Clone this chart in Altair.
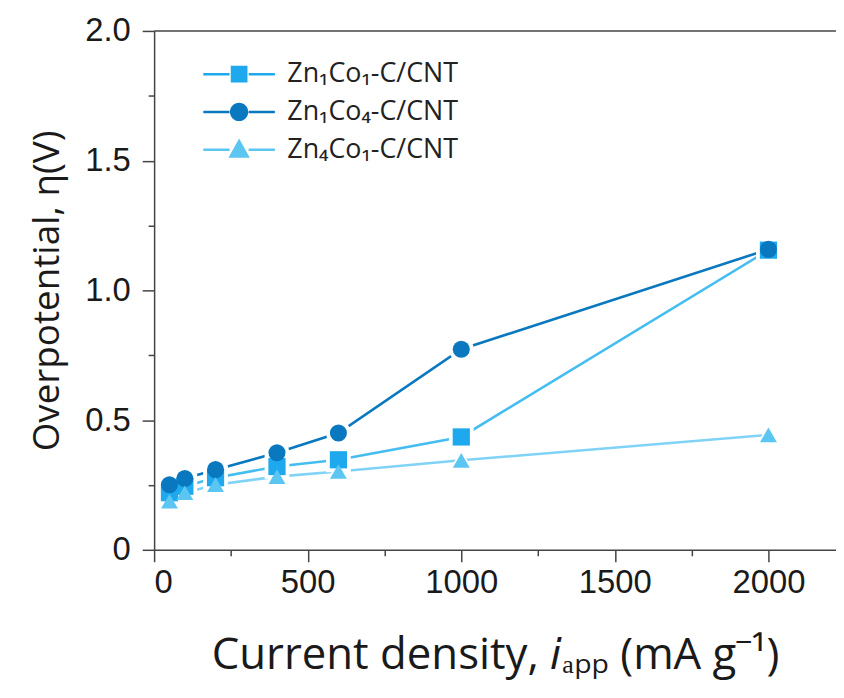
import altair as alt
import pandas as pd

# ---- data ----
current = [50, 100, 200, 400, 600, 1000, 2000]
series_names = ["Zn₁Co₁-C/CNT", "Zn₁Co₄-C/CNT", "Zn₄Co₁-C/CNT"]
eta_zn1co1 = [0.22, 0.245, 0.278, 0.321, 0.347, 0.435, 1.155]
eta_zn1co4 = [0.251, 0.275, 0.309, 0.374, 0.450, 0.773, 1.158]
eta_zn4co1 = [0.187, 0.220, 0.251, 0.282, 0.302, 0.345, 0.443]

marker_colors = ["#1ea9ee", "#0a78bf", "#5cc6f3"]
line_colors = ["#45bdf1", "#0a78bf", "#80d3f6"]
shapes = ["square", "circle", "triangle-up"]
marker_sizes = [300, 290, 560]
halo_sizes = [620, 620, 1100]

legend_paths = [
    "M-4.5,-0.16H-1.2V0.16H-4.5Z M1.2,-0.16H4.5V0.16H1.2Z M-1.05,-1.05H1.05V1.05H-1.05Z",
    "M-4.5,-0.16H-1.2V0.16H-4.5Z M1.2,-0.16H4.5V0.16H1.2Z M-1.15,0A1.15,1.15,0,1,0,1.15,0A1.15,1.15,0,1,0,-1.15,0Z",
    "M-4.5,-0.16H-1.2V0.16H-4.5Z M1.2,-0.16H4.5V0.16H1.2Z M0,-1.4L1.35,1L-1.35,1Z",
]

rows = []
for name, vals in zip(series_names, [eta_zn1co1, eta_zn1co4, eta_zn4co1]):
    for x, y in zip(current, vals):
        rows.append({"series": name, "x": x, "y": y})
df = pd.DataFrame(rows)

XMAX = 2220
xs = alt.Scale(domain=[0, XMAX], nice=False, zero=False)
ys = alt.Scale(domain=[0, 2.0], nice=False)

x_axis = alt.Axis(
    title="Current density, 𝑖ₐₚₚ (mA g⁻¹)",
    values=list(range(0, 2001, 250)),
    labelExpr="datum.value % 500 == 0 ? format(datum.value, 'd') : ''",
    tickSize={"condition": {"test": "datum.value % 500 != 0", "value": 6}, "value": 12},
    grid=False,
)
y_axis = alt.Axis(
    title="Overpotential, η(V)",
    values=[0, 0.25, 0.5, 0.75, 1.0, 1.25, 1.5, 1.75, 2.0],
    labelExpr="datum.value == 0 ? '0' : (abs(datum.value*2 - round(datum.value*2)) < 0.001 ? format(datum.value, '.1f') : '')",
    tickSize={"condition": {"test": "abs(datum.value*2 - round(datum.value*2)) > 0.001", "value": 6}, "value": 12},
    grid=False,
)

base = alt.Chart(df)

lines = base.mark_line(strokeWidth=2.6).encode(
    x=alt.X("x:Q", scale=xs, axis=x_axis),
    y=alt.Y("y:Q", scale=ys, axis=y_axis),
    color=alt.Color("series:N", scale=alt.Scale(domain=series_names, range=line_colors), legend=None),
    detail="series:N",
)

halos = base.mark_point(filled=True, opacity=1, color="white").encode(
    x=alt.X("x:Q", scale=xs),
    y=alt.Y("y:Q", scale=ys),
    shape=alt.Shape("series:N", scale=alt.Scale(domain=series_names, range=shapes), legend=None),
    size=alt.Size("series:N", scale=alt.Scale(domain=series_names, range=halo_sizes), legend=None),
)

markers = base.mark_point(filled=True, opacity=1).encode(
    x=alt.X("x:Q", scale=xs),
    y=alt.Y("y:Q", scale=ys),
    color=alt.Color("series:N", scale=alt.Scale(domain=series_names, range=marker_colors), legend=None),
    shape=alt.Shape("series:N", scale=alt.Scale(domain=series_names, range=shapes), legend=None),
    size=alt.Size("series:N", scale=alt.Scale(domain=series_names, range=marker_sizes), legend=None),
)

top_frame = alt.Chart(pd.DataFrame({"a": [0]})).mark_rule(color="#444", strokeWidth=1.5).encode(
    x=alt.datum(0, type="quantitative", scale=xs),
    x2=alt.datum(XMAX),
    y=alt.datum(2.0, type="quantitative", scale=ys),
)

legend_layer = base.mark_point(filled=True, opacity=1, size=256).encode(
    x=alt.X("x:Q", scale=xs),
    y=alt.Y("y:Q", scale=ys),
    color=alt.Color(
        "series:N",
        scale=alt.Scale(domain=series_names, range=marker_colors),
        legend=alt.Legend(
            title=None,
            orient="none",
            legendX=72,
            legendY=30,
            symbolSize=256,
            symbolStrokeWidth=0,
            labelOffset=35,
            labelFont="Open Sans",
            labelFontSize=27,
            labelLimit=400,
            labelColor="#222",
            rowPadding=10,
            padding=0,
        ),
    ),
    shape=alt.Shape(
        "series:N",
        scale=alt.Scale(domain=series_names, range=legend_paths),
        legend=alt.Legend(title=None, orient="none", legendX=72, legendY=30),
    ),
).transform_filter("false")

chart = (
    alt.layer(lines, halos, markers, top_frame, legend_layer)
    .resolve_scale(color="independent", shape="independent", size="independent")
    .properties(
        width=686,
        height=522,
        autosize=alt.AutoSizeParams(type="none"),
        padding={"left": 147, "top": 21, "right": 0, "bottom": 145},
    )
    .configure_view(stroke=None)
    .configure_axis(
        domainColor="#444",
        domainWidth=1.5,
        tickColor="#444",
        tickWidth=1.5,
        labelFont="Liberation Sans",
        labelFontSize=33,
        labelColor="#1a1a1a",
        labelPadding=12,
        titleFont="Open Sans",
        titleFontWeight="normal",
        titleColor="#1a1a1a",
    )
    .configure_axisX(titleFontSize=44, titlePadding=34, labelPadding=5)
    .configure_axisY(titleFontSize=37, titlePadding=18, labelPadding=12)
)

chart.save("out.html", embed_options={"renderer": "svg", "actions": False})
